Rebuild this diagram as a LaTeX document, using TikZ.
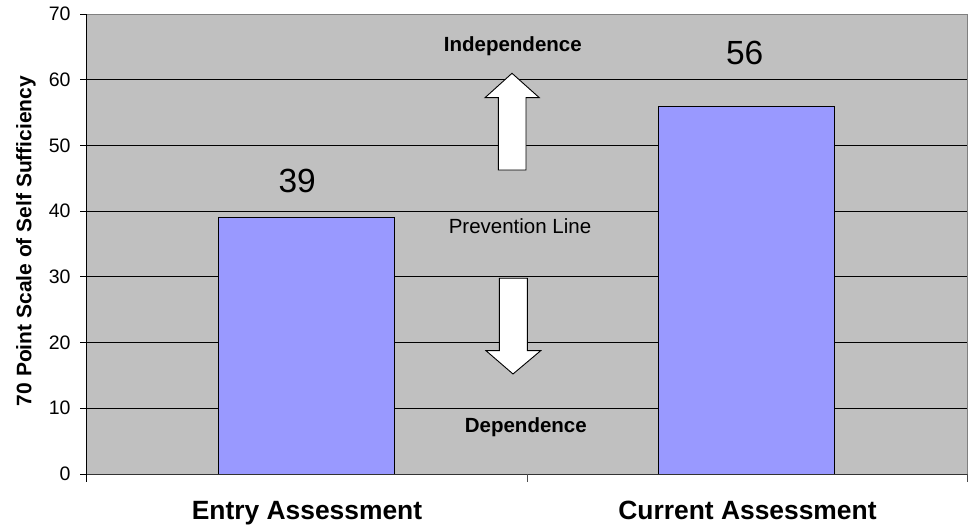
\documentclass[tikz,border=0pt]{standalone}
\usepackage{fontspec}
\setmainfont{Liberation Sans}
\usetikzlibrary{positioning}
\definecolor{plotgray}{HTML}{C0C0C0}
\definecolor{barblue}{HTML}{9999FF}

\begin{document}
\begin{tikzpicture}[x=1pt,y=1pt,
    bar/.style={draw=black,fill=barblue,line width=.9pt},
    gridline/.style={black,line width=.9pt},
    ticklab/.style={anchor=east,inner sep=0pt,font=\fontsize{19.5}{19.5}\selectfont},
    note/.style={anchor=base,inner sep=0pt,font=\fontsize{20.5}{20.5}\selectfont},
    val/.style={inner sep=0pt,font=\fontsize{33.5}{33.5}\selectfont},
    cat/.style={anchor=base,inner sep=0pt,font=\fontsize{26.4}{26.4}\selectfont\bfseries},
    blockarrow/.style={draw=black,fill=white,line width=.9pt}]
  \useasboundingbox (0,0) rectangle (978,530);
  % plot area, one unit of y = 10 points of the scale / 10
  \begin{scope}[shift={(86.5,56)},y=6.571pt]
    \fill[plotgray] (0,0) rectangle (880.5,70);
    \draw[gray,line width=.9pt] (0,70) -- (880.5,70) -- (880.5,0);
    \foreach \v in {10,20,...,60}
      \draw[gridline] (0,\v) -- (880.5,\v);
    % bars
    \draw[bar] (132.1,0) rectangle (308.1,39);
    \draw[bar] (572.4,0) rectangle (748.4,56);
    % axes and ticks
    \draw[black,line width=.9pt] (0,-1.2) -- (0,70);
    \draw[black!80,line width=.9pt] (-6.5,0) -- (880.5,0);
    \foreach \v in {0,10,...,70} {
      \draw[black,line width=.9pt] (-6.5,\v) -- (0,\v);
      \node[ticklab] (t\v) at (-15.8,\v) {\v};
    }
    \foreach \x in {440.5,880.5}
      \draw[black!70,line width=.9pt] (\x,0) -- (\x,-1.2);
  \end{scope}
  % values
  \node[val] (v39) at (297.2,349) {39};
  \node[val] (v56) at (744.7,477.5) {56};
  % prevention line notes
  \node[note,font=\fontsize{20.5}{20.5}\selectfont\bfseries] (indep) at (512.8,478.3) {Independence};
  \node[note] (prev) at (520,296) {Prevention Line};
  \node[note,font=\fontsize{20.5}{20.5}\selectfont\bfseries] (dep) at (525.8,97.3) {Dependence};
  % block arrows
  \draw[blockarrow] (498.3,360) -- (498.3,432.3) -- (485,432.3) -- (512,456.7)
    -- (539.3,432.3) -- (526,432.3) -- (526,360) -- cycle;
  \draw[blockarrow] (499.3,251.7) -- (499.3,179.3) -- (486,179.3) -- (513,156)
    -- (540.7,179.3) -- (527.3,179.3) -- (527.3,251.7) -- cycle;
  % axis titles
  \node[rotate=90,inner sep=0pt,font=\fontsize{21}{21}\selectfont\bfseries] (ytitle) at (26,289) {70 Point Scale of Self Sufficiency};
  \node[cat] (entry) at (307,10) {Entry Assessment};
  \node[cat] (current) at (747.5,10) {Current Assessment};
\end{tikzpicture}
\end{document}
